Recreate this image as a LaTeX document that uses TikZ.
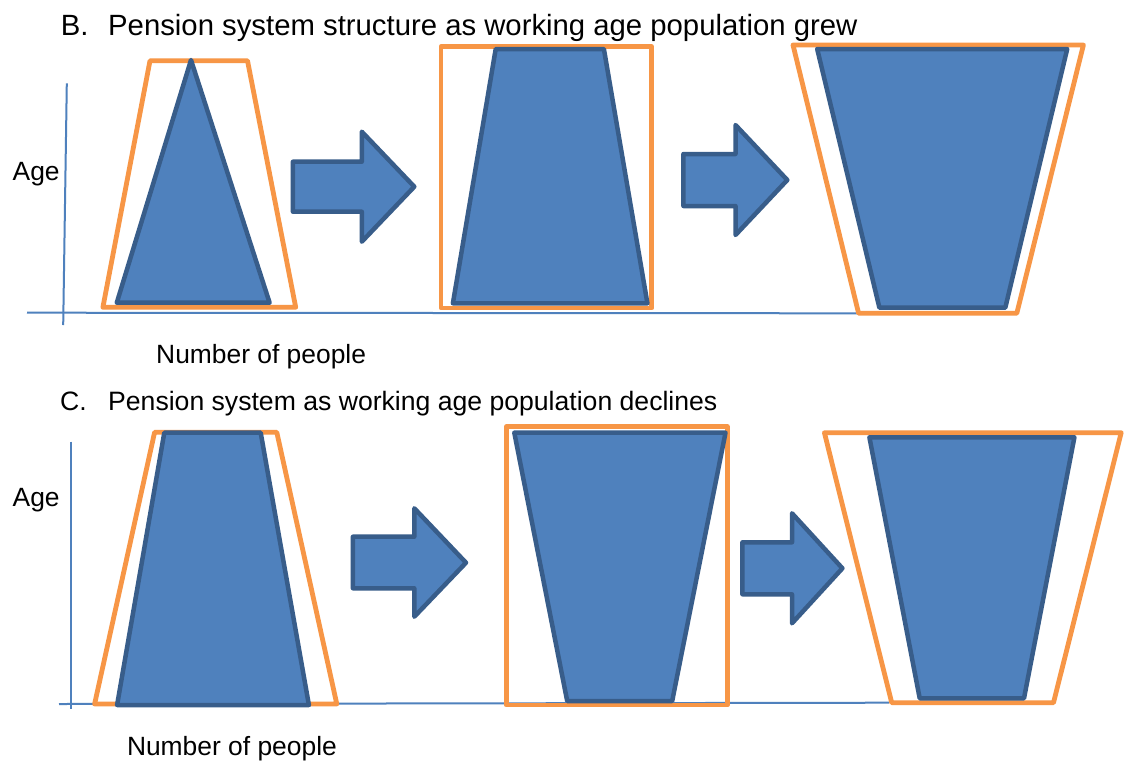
\documentclass[tikz,border=0pt]{standalone}
\usepackage{fontspec}
\setmainfont{Liberation Sans}
\definecolor{fillblue}{HTML}{4F81BD}
\definecolor{edgeblue}{HTML}{385D8A}
\definecolor{orng}{HTML}{F79646}
\begin{document}
\begin{tikzpicture}[x=1pt,y=-1pt,
  pop/.style={draw=edgeblue, fill=fillblue, line width=4.5pt, line join=round},
  frame/.style={draw=orng, line width=4.8pt, line join=round},
  axisline/.style={draw=fillblue, line width=2pt},
  title/.style={anchor=base west, inner sep=0pt, font=\fontsize{29.3}{32}\selectfont},
  titlec/.style={anchor=base west, inner sep=0pt, font=\fontsize{26.6}{30}\selectfont},
  lab/.style={anchor=base west, inner sep=0pt, font=\fontsize{26.4}{30}\selectfont}]
\useasboundingbox (0,0) rectangle (1124,761);
\fill[white] (0,0) rectangle (1124,761);
% ---------- Panel B ----------
\node[title] (titleB) at (60.7,35) {\makebox[47.3pt][l]{B.}Pension system structure as working age population grew};
\node[lab] (ageB) at (12.5,180) {Age};
\node[lab] (numB) at (156,363.3) {Number of people};
\draw[axisline] (27,312.7) -- (858.6,313.3);
\draw[axisline] (66.8,83.3) -- (63.2,325);
% stage 1
\draw[frame] (150,60.7) -- (247.5,60.7) -- (295.7,307.3) -- (102.9,307.3) -- cycle;
\draw[pop] (191,60) -- (269.6,302.7) -- (116.8,302.7) -- cycle;
% arrow 1
\draw[pop] (292.9,161.7) -- (361.8,161.7) -- (361.8,131.7) -- (414.3,186.7) -- (361.8,241.7) -- (361.8,211.7) -- (292.9,211.7) -- cycle;
% stage 2
\draw[frame] (441,46.7) rectangle (651.7,308);
\draw[pop] (495.7,49) -- (603.9,49) -- (647.4,303.3) -- (452.9,303.3) -- cycle;
% arrow 2
\draw[pop] (683.4,154) -- (735.5,154) -- (735.5,125) -- (787.3,180) -- (735.5,235) -- (735.5,206) -- (683.4,206) -- cycle;
% stage 3
\draw[frame] (793,45) -- (1083.4,45) -- (1016.8,313.3) -- (858.6,313.3) -- cycle;
\draw[pop] (817.2,49) -- (1067.2,49) -- (1005.3,307.7) -- (879.4,307.7) -- cycle;
% ---------- Panel C ----------
\node[titlec] (titleC) at (60,410) {\makebox[48pt][l]{C.}Pension system as working age population declines};
\node[lab] (ageC) at (12.5,506.7) {Age};
\node[lab] (numC) at (126.8,755) {Number of people};
\draw[axisline] (59,704) -- (889,702.7);
\draw[axisline] (71.4,441.7) -- (71.4,709.3);
% stage 1
\draw[frame] (154.6,432.3) -- (276.8,432.3) -- (336.8,704) -- (94.6,704) -- cycle;
\draw[pop] (164.3,432.7) -- (260.7,432.7) -- (308.9,705) -- (117.1,705) -- cycle;
% arrow 1
\draw[pop] (352.9,536.7) -- (414.3,536.7) -- (414.3,508.3) -- (466,562.7) -- (414.3,616.7) -- (414.3,588.3) -- (352.9,588.3) -- cycle;
% stage 2
\draw[frame] (506.4,426.7) rectangle (727.3,705);
\draw[pop] (514.3,432.7) -- (725.5,432.7) -- (672.2,701) -- (567.2,701) -- cycle;
% arrow 2
\draw[pop] (742.4,542.3) -- (792,542.3) -- (792,513.3) -- (842.4,568.3) -- (792,623.3) -- (792,594.3) -- (742.4,594.3) -- cycle;
% stage 3
\draw[frame] (824.4,432.7) -- (1121.2,432.7) -- (1053.5,702.7) -- (891.7,702.7) -- cycle;
\draw[pop] (869.4,437.3) -- (1074.4,437.3) -- (1024,698.3) -- (919.7,698.3) -- cycle;
\end{tikzpicture}
\end{document}
